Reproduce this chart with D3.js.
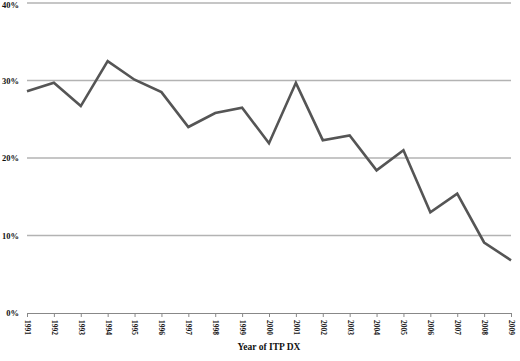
<html>
<head>
<style>
body { margin: 0; background: #fff; }
.grid line { stroke: #b3b3b3; stroke-width: 1.5px; }
.series { stroke: #555; stroke-width: 2.6px; fill: none; stroke-linejoin: miter; }
.lbl { font-family: "Liberation Serif", "DejaVu Serif", serif; font-weight: bold; fill: #111; }
</style>
</head>
<body>
<script src="https://d3js.org/d3.v7.min.js"></script>
<script>

var years = [1991, 1992, 1993, 1994, 1995, 1996, 1997, 1998, 1999, 2000,
             2001, 2002, 2003, 2004, 2005, 2006, 2007, 2008, 2009]
var rates = [28.6, 29.7, 26.7, 32.5, 30.1, 28.5, 24.0, 25.8, 26.5, 21.9,
             29.7, 22.3, 22.9, 18.4, 21.0, 13.0, 15.4, 9.1, 6.8]
var yTicks = [0, 10, 20, 30, 40]
var xTitle = "Year of ITP DX"

var width = 520, height = 361
var plotLeft = 27, plotRight = 511, plotTop = 3, plotBottom = 313

var svg = d3.select("body").append("svg")
            .attr("width", width)
            .attr("height", height)

var x = d3.scalePoint().domain(years).range([plotLeft, plotRight])
var y = d3.scaleLinear().domain([0, 40]).range([plotBottom, plotTop])

// gridlines
svg.append("g").attr("class", "grid")
   .selectAll("line")
   .data(yTicks.filter(function(d) { return d > 0 }))
   .enter().append("line")
   .attr("x1", plotLeft).attr("x2", plotRight)
   .attr("y1", function(d) { return y(d) })
   .attr("y2", function(d) { return y(d) })

// y labels (top one nudged down so it stays inside the page)
svg.selectAll(".ylbl")
   .data(yTicks)
   .enter().append("text")
   .attr("class", "lbl ylbl")
   .attr("x", 19)
   .attr("y", function(d) { return Math.max(y(d) + 3, 8) })
   .attr("text-anchor", "end")
   .style("font-size", "8.5px")
   .text(function(d) { return d + "%" })

// x axis
var xAxis = svg.append("g")
   .attr("transform", "translate(0," + plotBottom + ")")
   .call(d3.axisBottom(x).tickSize(4).tickSizeOuter(0))
xAxis.select(".domain").attr("stroke", "#888").attr("stroke-width", 1.2)
xAxis.selectAll(".tick line").attr("stroke", "#888")
xAxis.selectAll("text")
     .attr("class", "lbl")
     .attr("transform", "rotate(90)")
     .attr("x", 7)
     .attr("y", 0)
     .attr("dy", "0.35em")
     .attr("text-anchor", "start")
     .style("font-size", "7.5px")

svg.append("text")
   .attr("class", "lbl")
   .attr("x", 269)
   .attr("y", 350)
   .attr("text-anchor", "middle")
   .style("font-size", "9.5px")
   .text(xTitle)

var line = d3.line()
             .x(function(d, i) { return x(years[i]) })
             .y(function(d) { return y(d) })

svg.append("path").attr("class", "series").attr("d", line(rates))

</script>
</body>
</html>
